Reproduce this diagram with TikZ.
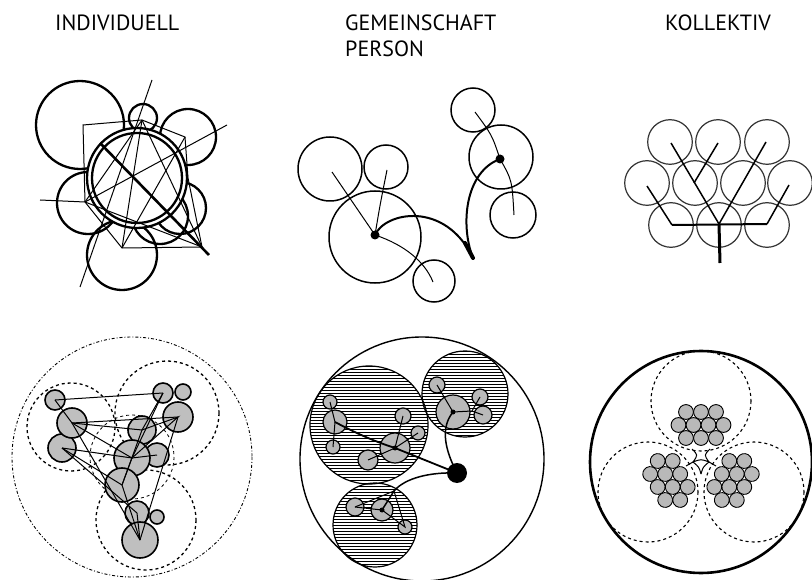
\documentclass[tikz,border=0pt]{standalone}
\usepackage{fontspec}
\setmainfont{PT Sans}
\usepackage{tikz}
\usetikzlibrary{calc,patterns}
\tikzset{
	title/.style={font=\fontsize{22}{26}\selectfont, inner sep=0pt, anchor=base west},
	ring/.style={line width=2.3pt},
	twig/.style={line width=1pt},
	bough/.style={line width=2.3pt, line cap=round},
	cell/.style={line width=1.5pt},
	leaf/.style={line width=1.2pt, draw=black!80},
	blob/.style={draw, line width=1.6pt, fill=gray!50},
	pearl/.style={draw, line width=1.2pt, fill=gray!55},
	hatched/.style={draw, line width=1.2pt, pattern=horizontal lines}
}
\newcommand{\kollcluster}[1]{
	\begin{scope}[shift={(kol)}, rotate=#1]
	\foreach \dx/\dy in {-15/-50, 0/-50, 15/-50, -22.5/-37, -7.5/-37, 7.5/-37, 22.5/-37, -15/-24, 0/-24, 15/-24}
		\draw[pearl, line width=0.9pt] (\dx,\dy) circle (7.4);
	\end{scope}
}

\begin{document}
\begin{tikzpicture}[x=1pt,y=-1pt]
	\useasboundingbox (0,0) rectangle (812,580);
	\node[title] (tInd) at (55,31) {INDIVIDUELL};
	\node[title] (tGem) at (345,31) {GEMEINSCHAFT};
	\node[title] (tPer) at (345,57) {PERSON};
	\node[title] (tKol) at (665,31) {KOLLEKTIV};

	% individuell
	\coordinate (ind) at (137,178);
	\foreach \cx/\cy/\r in {80/125/44, 143/118/14, 188/137/28, 180/208/26, 88/203/31, 122/255/35, 160/216/28}
		\draw[ring] (\cx,\cy) circle (\r);
	\fill[white] (ind) circle (50);
	\draw[ring] (ind) circle (50);
	\draw[ring] (ind) circle (45);
	\coordinate (A) at (83,125);
	\coordinate (B) at (142,120);
	\coordinate (C) at (185,137);
	\coordinate (D) at (188,178);
	\coordinate (E) at (85,202);
	\coordinate (F) at (122,248);
	\coordinate (G) at (202,247);
	\coordinate (P) at (152,80);
	\coordinate (Q) at (80,287);
	\coordinate (R) at (227,125);
	\coordinate (S) at (40,200);
	\coordinate (T) at (100,143);
	\coordinate (U) at (209,255);
	\draw[twig] (A) -- (B) -- (C) -- (D) -- (G) -- (F) -- (E) -- cycle;
	\draw[twig] (P) -- (Q);
	\draw[twig] (S) -- (E) -- (R);
	\draw[twig] (B) -- (G) -- (E);
	\draw[twig] (B) -- (F);
	\draw[twig] (C) -- (F);
	\draw[twig] (B) -- (E);
	\draw[line width=2.6pt] (T) -- (U);

	% gemeinschaft / person
	\coordinate (hub) at (375,235);
	\coordinate (tip) at (473,258);
	\coordinate (knot) at (500,159);
	\foreach \cx/\cy/\r in {375/237/46, 330/169/32, 386/167/22, 434/281/21, 473/110/22, 501/157/32, 513/215/23}
		\draw[cell] (\cx,\cy) circle (\r);
	\draw[twig] (hub) -- (332,172);
	\draw[twig] (hub) .. controls (380,205) .. (387,170);
	\draw[twig] (hub) .. controls (405,245) and (425,262) .. (433,282);
	\draw[twig] (knot) .. controls (492,135) .. (475,112);
	\draw[twig] (knot) .. controls (512,180) .. (514,215);
	\draw[bough, line width=2pt] (hub) .. controls (385,212) and (445,200) .. (tip);
	\draw[bough, line width=2pt] (tip) .. controls (460,225) and (465,172) .. (knot);
	\draw[bough, line width=4pt] (465,243) -- (tip);
	\fill (hub) circle (4.5);
	\fill (knot) circle (4.5);

	% kollektiv
	\foreach \cx/\cy in {670/142, 718/142, 767/142, 647/183, 695/183, 743/183, 790/183, 671/225, 719/225, 767/225}
		\draw[leaf] (\cx,\cy) circle (22.3);
	\coordinate (root) at (720,263);
	\coordinate (fork) at (719,224);
	\coordinate (bl) at (672,225);
	\coordinate (br) at (767,224);
	\draw[line width=3pt] (root) -- (fork);
	\draw[line width=2pt] (bl) -- (br);
	\draw[twig, line width=1.5pt] (bl) -- (647,186);
	\draw[twig, line width=1.5pt] (br) -- (789,185);
	\draw[twig, line width=1.5pt] (fork) -- (671,143);
	\draw[twig, line width=1.5pt] (fork) -- (766,142);
	\draw[twig, line width=1.5pt] (718,143) -- (694,183);

	% individuell, unten
	\coordinate (indb) at (132,457);
	\draw[line width=0.9pt, dash dot] (indb) circle (120);
	\draw[line width=1.3pt, dashed] (71,427) circle (44);
	\draw[line width=1.3pt, dashed] (167,413) circle (52);
	\draw[line width=1.3pt, dashed] (146,520) circle (50);
	\draw[line width=0.8pt, dashed] (indb) circle (42);
	\foreach \n/\cx/\cy/\r in {g1/55/400/10, g5/183/392/8, g4/163/393/10, g3/62/448/14, g2/72/423/15, g6/178/417/15, g7/142/430/14, g8/157/455/12, g9/132/458/18, g10/122/485/17, g12/157/517/7, g11/137/513/12, g13/140/540/18}
		{\coordinate (\n) at (\cx,\cy);
		\draw[blob] (\n) circle (\r);}
	\draw[twig] (g1) -- (g4);
	\draw[twig] (g1) -- (g2) -- (g9) -- (g4);
	\draw[twig] (g2) -- (g7) -- (g6) -- (g9);
	\draw[twig] (g2) -- (g6);
	\draw[twig] (g2) -- (g13);
	\draw[twig] (g3) -- (g9);
	\draw[twig] (g3) -- (g10);
	\draw[twig] (g3) -- (g11);
	\draw[twig] (g6) -- (g13);
	\draw[twig] (g7) -- (g10) -- (g13);
	\draw[twig] (g9) -- (g10);
	\draw[twig] (g8) -- (g9);
	\draw[twig] (g11) -- (g13);
	\draw[twig] (g4) -- (g7);

	% gemeinschaft, unten
	\coordinate (gem) at (422,459);
	\draw[line width=1.4pt] (gem) circle (122);
	\draw[hatched] (369,425) circle (59);
	\draw[hatched] (465,394) circle (43);
	\draw[hatched] (375,525) circle (42);
	\coordinate (core) at (457,473);
	\coordinate (L0) at (395,448);
	\coordinate (L1) at (335,422);
	\coordinate (T0) at (453,412);
	\coordinate (Tj) at (472,411);
	\coordinate (B0) at (382,510);
	\coordinate (Bj) at (394,491);
	\foreach \cx/\cy/\r in {330/402/7, 333/447/7, 403/416/8, 418/433/7, 368/460/10, 437/385/8, 480/397/8, 483/415/9, 355/507/9, 405/527/7}
		\draw[pearl] (\cx,\cy) circle (\r);
	\draw[pearl] (L0) circle (15);
	\draw[pearl] (L1) circle (12);
	\draw[pearl] (T0) circle (17);
	\draw[pearl] (B0) circle (11);
	\draw[twig] (L1) -- (330,402);
	\draw[twig] (L1) -- (333,447);
	\draw[twig] (L0) -- (403,416);
	\draw[twig] (L0) -- (418,433);
	\draw[twig] (L0) -- (368,460);
	\draw[twig] (T0) -- (437,385);
	\draw[twig] (T0) -- (Tj) -- (480,397);
	\draw[twig] (Tj) -- (483,415);
	\draw[twig] (B0) -- (355,507);
	\draw[twig] (B0) -- (405,527) -- (Bj) -- (355,507);
	\draw[line width=1.8pt] (core) -- (L0) .. controls (370,440) and (350,430) .. (L1);
	\draw[line width=1.5pt] (core) .. controls (445,450) and (440,428) .. (T0);
	\draw[line width=1.5pt] (core) .. controls (430,472) and (405,478) .. (Bj) -- (B0);
	\fill (core) circle (10);
	\fill (L0) circle (2.5);
	\fill (T0) circle (2.5);
	\fill (B0) circle (2.5);

	% kollektiv, unten
	\coordinate (kol) at (701,462);
	\draw[line width=2.6pt] (kol) circle (111);
	\draw[line width=1.1pt, dashed] (701,401) circle (50);
	\draw[line width=1.1pt, dashed] (648,492) circle (50);
	\draw[line width=1.1pt, dashed] (754,492) circle (50);
	\kollcluster{0}
	\kollcluster{120}
	\kollcluster{240}
	\draw[twig] (692,449) .. controls (698,455) .. (693,462) .. controls (701,459) .. (709,462) .. controls (704,455) .. (710,449);
	\draw[twig] (693,462) .. controls (699,467) .. (701,474);
	\draw[twig] (709,462) .. controls (703,467) .. (701,474);
	\draw[twig] (693,462) -- (686,466);
	\draw[twig] (709,462) -- (716,466);
\end{tikzpicture}
\end{document}
